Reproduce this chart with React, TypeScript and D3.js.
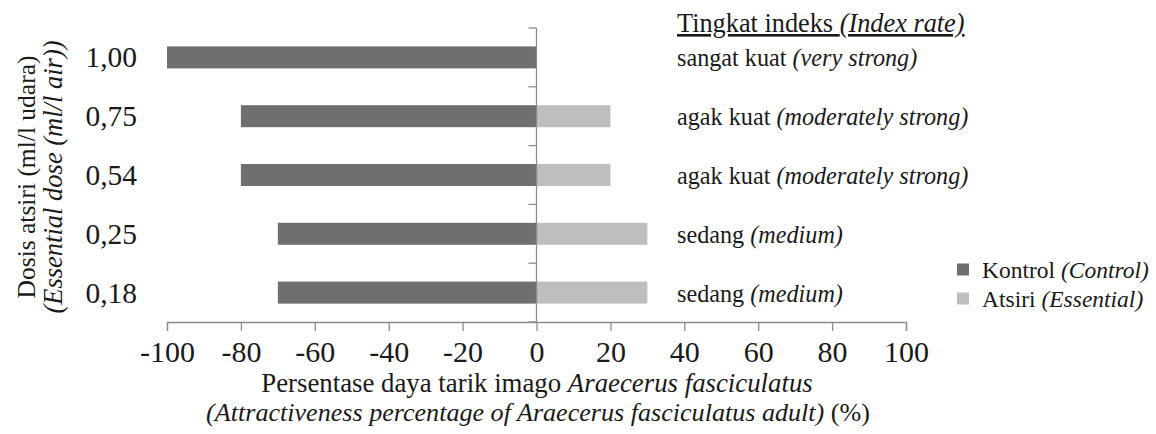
import React, { useEffect, useRef } from 'react';
import * as d3 from 'd3';

const doses = ['1,00', '0,75', '0,54', '0,25', '0,18'];
const kontrol = [-100, -80, -80, -70, -70];
const atsiri = [0, 20, 20, 30, 30];
const rateId = ['sangat kuat', 'agak kuat', 'agak kuat', 'sedang', 'sedang'];
const rateEn = ['(very strong)', '(moderately strong)', '(moderately strong)', '(medium)', '(medium)'];
const xTicks = [-100, -80, -60, -40, -20, 0, 20, 40, 60, 80, 100];

const W = 1156;
const H = 434;
const FONT = 'Liberation Serif';
const DARK = '#6f6f6f';
const LIGHT = '#bebebe';
const AXIS = '#8c8c8c';
const INK = '#1a1a1a';

function App() {
  const ref = useRef<SVGSVGElement>(null);

  useEffect(() => {
    const svg = d3.select(ref.current);
    svg.selectAll('*').remove();

    const x = d3.scaleLinear().domain([-100, 100]).range([167, 906]);
    const y = d3.scaleBand().domain(doses).range([28, 322]);
    const barH = 22;
    const mid = (d: string) => y(d)! + y.bandwidth() / 2;

    const g = svg.append('g').attr('fill', INK).attr('font-family', FONT);

    // bars
    g.append('g').selectAll('rect').data(doses).join('rect')
      .attr('x', (d, i) => x(kontrol[i]))
      .attr('width', (d, i) => x(0) - x(kontrol[i]))
      .attr('y', d => mid(d) - barH / 2)
      .attr('height', barH)
      .attr('fill', DARK);
    g.append('g').selectAll('rect').data(doses).join('rect')
      .attr('x', x(0))
      .attr('width', (d, i) => x(atsiri[i]) - x(0))
      .attr('y', d => mid(d) - barH / 2)
      .attr('height', barH)
      .attr('fill', LIGHT);

    // x axis
    const xa = g.append('g').attr('transform', 'translate(0,322)')
      .call(d3.axisBottom(x).tickValues(xTicks).tickFormat(d => String(d)).tickSizeOuter(0).tickSize(9).tickPadding(10));
    xa.attr('font-family', FONT);
    xa.select('.domain').attr('stroke', AXIS).attr('stroke-width', 1.3);
    xa.selectAll('.tick line').attr('stroke', AXIS).attr('stroke-width', 1.3);
    xa.selectAll('.tick text').attr('font-size', 30).attr('fill', INK);

    // vertical axis at zero with category boundary ticks
    const bounds = doses.map(d => y(d)!).concat([322]);
    g.append('line').attr('x1', x(0)).attr('x2', x(0)).attr('y1', 28).attr('y2', 322)
      .attr('stroke', AXIS).attr('stroke-width', 1.3);
    g.append('g').selectAll('line').data(bounds).join('line')
      .attr('x1', x(0) - 8).attr('x2', x(0)).attr('y1', d => d).attr('y2', d => d)
      .attr('stroke', AXIS).attr('stroke-width', 1.3);

    // category labels
    g.append('g').selectAll('text').data(doses).join('text')
      .attr('x', 137).attr('y', d => mid(d) + 10)
      .attr('text-anchor', 'end').attr('font-size', 29.5)
      .text(d => d);

    // y title
    const yt = g.append('text').attr('transform', 'translate(35,177) rotate(-90)')
      .attr('text-anchor', 'middle');
    yt.append('tspan').attr('x', 0).attr('y', 0).attr('font-size', 25.5).text('Dosis atsiri (ml/l udara)');
    yt.append('tspan').attr('x', 0).attr('y', 27).attr('font-size', 26.5).attr('font-style', 'italic').text('(Essential dose (ml/l air))');

    // x title
    const xt1 = g.append('text').attr('x', 537).attr('y', 392).attr('text-anchor', 'middle').attr('font-size', 26.8);
    xt1.append('tspan').text('Persentase daya tarik imago ');
    xt1.append('tspan').attr('font-style', 'italic').text('Araecerus fasciculatus');
    const xt2 = g.append('text').attr('x', 538).attr('y', 421).attr('text-anchor', 'middle').attr('font-size', 26.1);
    xt2.append('tspan').attr('font-style', 'italic').text('(Attractiveness percentage of Araecerus fasciculatus adult)');
    xt2.append('tspan').text(' (%)');

    // index rate column
    const hd = g.append('text').attr('x', 677).attr('y', 32).attr('font-size', 26.3).attr('text-decoration', 'underline');
    hd.append('tspan').text('Tingkat indeks ');
    hd.append('tspan').attr('font-style', 'italic').text('(Index rate)');
    const rl = g.append('g').selectAll('text').data(doses).join('text')
      .attr('x', 677).attr('y', d => mid(d) + 9).attr('font-size', 24.2);
    rl.append('tspan').text((d, i) => rateId[i] + ' ');
    rl.append('tspan').attr('font-style', 'italic').text((d, i) => rateEn[i]);

    // legend
    const legend = [
      { id: 'Kontrol', en: '(Control)', c: DARK },
      { id: 'Atsiri', en: '(Essential)', c: LIGHT },
    ];
    const lg = g.append('g').selectAll('g').data(legend).join('g')
      .attr('transform', (d, i) => `translate(957,${269.5 + i * 29})`);
    lg.append('rect').attr('x', 0).attr('y', -6).attr('width', 12).attr('height', 12).attr('fill', d => d.c);
    const lt = lg.append('text').attr('x', 25).attr('y', 8).attr('font-size', 23.5);
    lt.append('tspan').text(d => d.id + ' ');
    lt.append('tspan').attr('font-style', 'italic').text(d => d.en);

    svg.selectAll('text, tspan').attr('font-family', FONT);
  }, []);

  return <svg ref={ref} width={W} height={H} style={{ position: 'absolute', left: 0, top: 0, background: '#fff' }} />;
}

export default App;
